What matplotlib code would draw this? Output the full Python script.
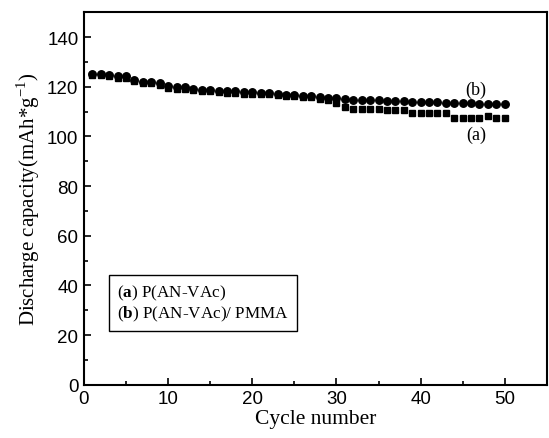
import numpy as np
import matplotlib.pyplot as plt
from matplotlib.ticker import MultipleLocator

plt.rcParams['mathtext.fontset'] = 'custom'
plt.rcParams['mathtext.rm'] = 'Liberation Serif'
plt.rcParams['mathtext.bf'] = 'Liberation Serif:bold'

# data
cycles = np.arange(1, 51)
cap_a = [124.7, 124.8, 124.3, 123.7, 123.7, 122.1, 121.3, 121.3, 120.8, 119.6,
         119.2, 119.2, 118.7, 118.3, 118.3, 117.9, 117.6, 117.6, 117.2, 117.2,
         116.9, 116.9, 116.7, 116.3, 116.3, 115.9, 115.7, 115.1, 114.6, 113.6,
         112.0, 111.2, 111.2, 111.2, 111.2, 110.7, 110.7, 110.7, 109.6, 109.6,
         109.6, 109.6, 109.4, 107.6, 107.4, 107.4, 107.4, 108.3, 107.3, 107.3]
cap_b = [125.2, 125.3, 124.8, 124.2, 124.2, 122.6, 121.8, 121.8, 121.3, 120.1,
         119.7, 119.7, 119.2, 118.8, 118.8, 118.4, 118.1, 118.1, 117.7, 117.7,
         117.4, 117.4, 117.2, 116.8, 116.8, 116.4, 116.3, 115.9, 115.6, 115.3,
         114.9, 114.8, 114.7, 114.6, 114.5, 114.4, 114.3, 114.1, 114.0, 113.9,
         113.8, 113.7, 113.6, 113.5, 113.4, 113.3, 113.2, 113.1, 113.0, 112.9]

fig = plt.figure(figsize=(5.49, 4.39), dpi=100)
ax = fig.add_axes([0.153, 0.121, 0.843, 0.849])

ax.plot(cycles, cap_b, 'o', color='black', ms=5.4, zorder=2)
ax.plot(cycles, cap_a, 's', color='black', ms=4.9, zorder=3)

ax.set_xlim(0, 55)
ax.set_ylim(0, 150)
ax.xaxis.set_major_locator(MultipleLocator(10))
ax.xaxis.set_minor_locator(MultipleLocator(5))
ax.yaxis.set_minor_locator(MultipleLocator(10))
ax.set_yticks(np.arange(0, 141, 20))
ax.tick_params(which='major', direction='in', length=5, width=1.2,
               labelsize=13.5, pad=4)
ax.tick_params(which='minor', direction='in', length=3, width=1.2)
for lab in ax.get_xticklabels() + ax.get_yticklabels():
    lab.set_family('Liberation Sans')
for s in ax.spines.values():
    s.set_linewidth(1.5)

ax.set_xlabel('Cycle number', family='Liberation Serif', fontsize=15.5, labelpad=1)
ax.set_ylabel(r'Discharge capacity(mAh*g$^{\mathregular{-1}}$)',
              family='Liberation Serif', fontsize=15, labelpad=4)

ax.text(46.6, 119, '(b)', family='Liberation Serif', fontsize=13,
        ha='center', va='center')
ax.text(46.6, 101, '(a)', family='Liberation Serif', fontsize=13,
        ha='center', va='center')

ax.text(3.9, 33.0, '($\\mathbf{a}$) P(AN-VAc)\n($\\mathbf{b}$) P(AN-VAc)/ PMMA',
        family='Liberation Serif', fontsize=12.3, ha='left', va='center',
        linespacing=1.15,
        bbox=dict(boxstyle='square,pad=0.45', fc='white', ec='black', lw=1.0))

fig.savefig('out.png', dpi=100)
